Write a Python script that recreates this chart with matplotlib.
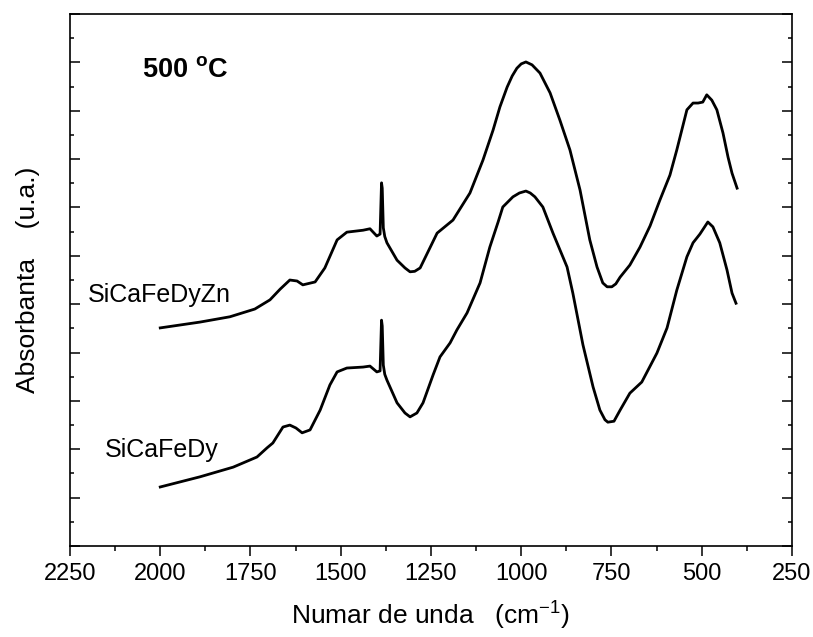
import numpy as np
import matplotlib
matplotlib.use('Agg')
import matplotlib.pyplot as plt
from matplotlib.ticker import MultipleLocator, NullFormatter

plt.rcParams['font.family'] = ['Liberation Sans', 'DejaVu Sans']
plt.rcParams['mathtext.fontset'] = 'custom'
plt.rcParams['mathtext.rm'] = 'Liberation Sans'

# SiCaFeDyZn spectrum (wavenumber, absorbance in arbitrary units, offset)
zn_wave = [2000, 1890, 1807, 1738, 1696, 1668, 1641, 1621, 1605, 1571, 1544, 1510,
           1483, 1438, 1419, 1400, 1391, 1387, 1385, 1382, 1378, 1372, 1344, 1322,
           1308, 1295, 1280, 1233, 1189, 1142, 1106, 1078, 1059, 1039, 1025, 1012,
           1000, 987, 970, 948, 920, 893, 865, 837, 810, 790, 774, 762, 749, 738,
           726, 699, 671, 643, 616, 588, 569, 541, 524, 510, 497, 486, 472, 458,
           441, 427, 416, 402]
zn_abs = [4.51, 4.63, 4.74, 4.90, 5.09, 5.31, 5.50, 5.48, 5.40, 5.46, 5.75, 6.33,
          6.49, 6.53, 6.56, 6.41, 6.45, 7.51, 7.40, 6.58, 6.40, 6.27, 5.91, 5.75,
          5.67, 5.68, 5.75, 6.47, 6.74, 7.30, 7.98, 8.60, 9.08, 9.49, 9.72, 9.88,
          9.97, 10.01, 9.95, 9.78, 9.37, 8.81, 8.19, 7.36, 6.33, 5.77, 5.44, 5.36,
          5.36, 5.42, 5.56, 5.81, 6.18, 6.62, 7.15, 7.67, 8.19, 9.02, 9.16, 9.16,
          9.18, 9.33, 9.22, 9.02, 8.54, 8.04, 7.71, 7.40]

# SiCaFeDy spectrum
dy_wave = [2000, 1890, 1798, 1732, 1704, 1688, 1660, 1641, 1624, 1607, 1585, 1557,
           1530, 1510, 1483, 1438, 1419, 1400, 1391, 1387, 1385, 1382, 1378, 1372,
           1344, 1322, 1308, 1289, 1272, 1244, 1225, 1197, 1178, 1150, 1114, 1087,
           1064, 1051, 1023, 1005, 987, 975, 962, 940, 912, 873, 857, 829, 801, 782,
           768, 760, 743, 726, 699, 666, 624, 596, 569, 541, 524, 505, 483, 469,
           450, 430, 416, 405]
dy_abs = [1.22, 1.43, 1.63, 1.84, 2.03, 2.13, 2.46, 2.50, 2.44, 2.34, 2.40, 2.81,
          3.33, 3.60, 3.68, 3.70, 3.72, 3.60, 3.62, 4.67, 4.55, 3.74, 3.55, 3.43,
          2.96, 2.75, 2.67, 2.75, 2.96, 3.54, 3.91, 4.20, 4.47, 4.82, 5.44, 6.18,
          6.70, 7.01, 7.22, 7.30, 7.34, 7.30, 7.22, 7.01, 6.47, 5.77, 5.23, 4.16,
          3.29, 2.81, 2.61, 2.56, 2.58, 2.81, 3.16, 3.39, 3.99, 4.51, 5.29, 5.98,
          6.27, 6.45, 6.70, 6.60, 6.27, 5.71, 5.23, 5.02]

fig = plt.figure(figsize=(8.13, 6.37), dpi=100)
ax = fig.add_axes([0.0861, 0.1429, 0.888, 0.835])

ax.plot(zn_wave, zn_abs, color='black', lw=2.0, solid_joinstyle='round')
ax.plot(dy_wave, dy_abs, color='black', lw=2.0, solid_joinstyle='round')

ax.set_xlim(2250, 250)
ax.set_ylim(0, 11)
ax.xaxis.set_major_locator(MultipleLocator(250))
ax.xaxis.set_minor_locator(MultipleLocator(125))
ax.yaxis.set_major_locator(MultipleLocator(1))
ax.yaxis.set_minor_locator(MultipleLocator(0.5))
ax.yaxis.set_major_formatter(NullFormatter())

ax.tick_params(axis='x', which='major', direction='out', length=7, width=1.1,
               labelsize=17, pad=5)
ax.tick_params(axis='x', which='minor', direction='out', length=3.5, width=1.1)
ax.tick_params(axis='y', which='major', direction='in', length=7, width=1.1,
               right=True)
ax.tick_params(axis='y', which='minor', direction='in', length=3, width=1.1,
               right=True)
for s in ax.spines.values():
    s.set_linewidth(1.2)

ax.set_xlabel('Numar de unda   (cm$^{\\mathregular{-1}}$)', fontsize=19, labelpad=10)
ax.set_ylabel('Absorbanta    (u.a.)', fontsize=19, labelpad=18)

ax.text(2050, 9.84, '500 $^\\mathregular{o}$C', fontsize=19.5, fontweight='bold',
        ha='left', va='center')
ax.text(2200, 5.19, 'SiCaFeDyZn', fontsize=18, ha='left', va='center')
ax.text(2153, 1.99, 'SiCaFeDy', fontsize=18, ha='left', va='center')

fig.savefig('out.png', dpi=100)
